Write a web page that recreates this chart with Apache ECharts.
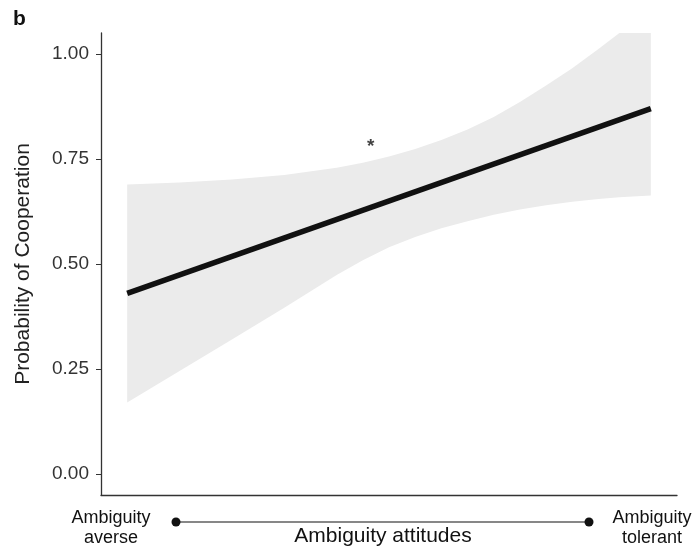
<!DOCTYPE html>
<html>
<head>
<meta charset="utf-8">
<script src="https://cdn.jsdelivr.net/npm/echarts@6/dist/echarts.min.js"></script>
<style>
html,body{margin:0;padding:0;background:#fff;}
#c{width:696px;height:548px;}
</style>
</head>
<body>
<div id="c"></div>
<script>
// Ambiguity attitude (0 = averse, 1 = tolerant)
const xs      = [0,     0.1,   0.2,   0.3,   0.4,   0.45,  0.5,   0.55,  0.6,   0.65,  0.7,   0.75,  0.8,   0.85,  0.9,   0.94,  1.0];
const ciLower = [0.170, 0.245, 0.320, 0.396, 0.474, 0.509, 0.540, 0.564, 0.585, 0.602, 0.617, 0.630, 0.640, 0.648, 0.655, 0.659, 0.663];
const ciUpper = [0.689, 0.694, 0.701, 0.712, 0.729, 0.741, 0.756, 0.774, 0.795, 0.820, 0.850, 0.886, 0.925, 0.966, 1.012, 1.050, 1.050];
const fitX = [0, 1];
const fitY = [0.430, 0.870];
const star = [[0.465, 0.786]];
const yTicks = [0, 0.25, 0.5, 0.75, 1.0];

const bandPts = xs.map((x, i) => [x, ciUpper[i]]).concat(xs.map((x, i) => [x, ciLower[i]]).reverse());

const chart = echarts.init(document.getElementById('c'));
const font = 'Liberation Sans, Arial, sans-serif';
chart.setOption({
  backgroundColor: '#ffffff',
  animation: false,
  grid: { left: 101, right: 19, top: 33, bottom: 53 },
  xAxis: {
    type: 'value', min: -0.05, max: 1.05,
    axisLine: { show: true, onZero: false, lineStyle: { color: '#333', width: 1.3 } },
    axisTick: { show: false }, axisLabel: { show: false }, splitLine: { show: false }
  },
  yAxis: {
    type: 'value', min: -0.05, max: 1.05,
    name: 'Probability of Cooperation', nameLocation: 'middle', nameGap: 67, nameRotate: 90,
    nameTextStyle: { fontFamily: font, fontSize: 21, color: '#222' },
    axisLine: { show: true, onZero: false, lineStyle: { color: '#333', width: 1.3 } },
    axisTick: { show: true, length: 5, customValues: yTicks, lineStyle: { color: '#333' } },
    axisLabel: { customValues: yTicks, formatter: v => v.toFixed(2), fontFamily: font, fontSize: 19, color: '#333', margin: 12 },
    splitLine: { show: false }
  },
  series: [
    {
      type: 'custom', clip: true, silent: true,
      data: [0],
      renderItem: function (params, api) {
        const pts = bandPts.map(p => api.coord(p));
        return { type: 'polygon', shape: { points: pts }, style: { fill: '#ebebeb' } };
      },
      z: 1
    },
    {
      type: 'line', data: fitX.map((x, i) => [x, fitY[i]]), symbol: 'none',
      lineStyle: { color: '#111', width: 5.5, cap: 'butt' }, z: 3
    },
    {
      type: 'scatter', data: star, symbolSize: 1, itemStyle: { color: 'rgba(0,0,0,0)' },
      label: { show: true, formatter: '*', position: 'inside', fontFamily: font, fontSize: 19, fontWeight: 'bold', color: '#111', offset: [0, 3] },
      z: 4
    }
  ],
  graphic: [
    { type: 'text', left: 13, top: 9, style: { text: 'b', fontFamily: font, fontSize: 21, fontWeight: 'bold', fill: '#111' } },
    { type: 'text', x: 111, y: 508, style: { text: 'Ambiguity\naverse', align: 'center', fontFamily: font, fontSize: 18, lineHeight: 20, fill: '#111' } },
    { type: 'line', shape: { x1: 176, y1: 522, x2: 589, y2: 522 }, style: { stroke: '#111', lineWidth: 1.2 } },
    { type: 'circle', shape: { cx: 176, cy: 522, r: 4.5 }, style: { fill: '#111' } },
    { type: 'circle', shape: { cx: 589, cy: 522, r: 4.5 }, style: { fill: '#111' } },
    { type: 'text', x: 383, y: 526, style: { text: 'Ambiguity attitudes', align: 'center', fontFamily: font, fontSize: 21, fill: '#111' } },
    { type: 'text', x: 652, y: 508, style: { text: 'Ambiguity\ntolerant', align: 'center', fontFamily: font, fontSize: 18, lineHeight: 20, fill: '#111' } }
  ]
});
</script>
</body>
</html>
